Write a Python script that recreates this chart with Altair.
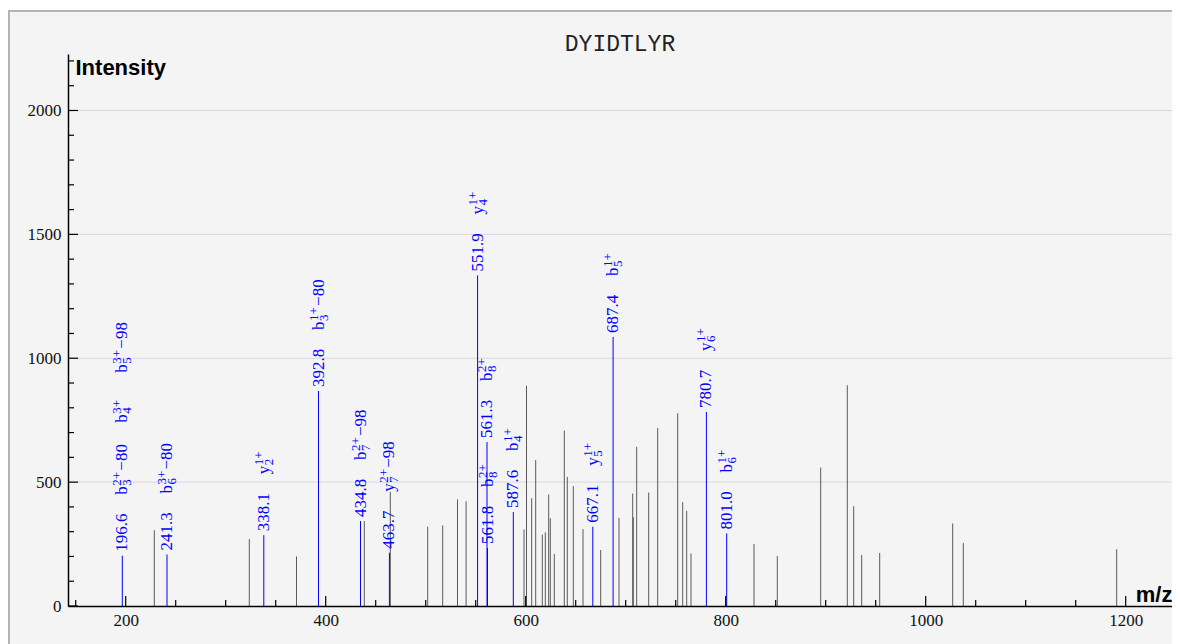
import altair as alt
import pandas as pd

# ---------------- data ----------------
gray_mz = [228.6, 323.6, 370.8, 438.6, 464.6, 502.0, 517.0, 531.8, 540.4, 598.3,
           600.8, 606.0, 610.0, 616.6, 619.6, 623.0, 624.6, 628.6, 638.6, 641.6,
           647.6, 657.3, 675.0, 693.3, 707.0, 707.6, 711.0, 723.0, 732.0, 752.0,
           757.0, 761.0, 765.3, 828.3, 851.6, 895.0, 921.6, 928.0, 936.0, 954.0,
           1027.0, 1037.6, 1191.0]
gray_int = [306, 270, 200, 343, 461, 320, 325, 430, 423, 309,
            889, 435, 589, 288, 297, 450, 354, 210, 708, 521,
            484, 310, 226, 356, 454, 358, 642, 458, 719, 778,
            419, 384, 212, 250, 202, 559, 891, 403, 206, 214,
            333, 254, 229]

blue_mz = [196.6, 241.3, 338.1, 392.8, 434.8, 463.7, 551.9, 561.3, 561.8,
           587.6, 667.1, 687.4, 780.7, 801.0]
blue_int = [203, 208, 286, 868, 343, 215, 1334, 662, 234, 379, 320, 1086, 783, 293]

ann_mz = [196.6, 196.6, 196.6, 241.3, 338.1, 392.8, 434.8, 463.7, 551.9,
          561.3, 561.8, 587.6, 667.1, 687.4, 780.7, 801.0]
ann_level = [1, 2, 3, 1, 1, 1, 1, 1, 1, 1, 1, 1, 1, 1, 1, 1]
ann_ion = ['b', 'b', 'b', 'b', 'y', 'b', 'b', 'y', 'y', 'b', 'b', 'b', 'y', 'b', 'y', 'b']
ann_idx = ['3', '4', '5', '6', '2', '3', '7', '7', '4', '8', '8', '4', '5', '5', '6', '6']
ann_charge = ['2+', '3+', '3+', '3+', '1+', '1+', '2+', '2+', '1+', '2+', '2+',
              '1+', '1+', '1+', '1+', '1+']
ann_loss = ['\u221280', '', '\u221298', '\u221280', '', '\u221280', '\u221298', '\u221298',
            '', '', '', '', '', '', '', '']

y_major = [0, 500, 1000, 1500, 2000]
y_minor = [100, 200, 300, 400, 600, 700, 800, 900, 1100, 1200, 1300, 1400,
           1600, 1700, 1800, 1900, 2100, 2200]
y_grid = [500, 1000, 1500, 2000]
x_major = [200, 400, 600, 800, 1000, 1200]
x_minor = [150, 250, 300, 350, 450, 500, 550, 650, 700, 750, 850, 900, 950,
           1050, 1100, 1150]

# ---------------- tables ----------------
gdf = pd.DataFrame({'mz': gray_mz, 'intensity': gray_int})
bdf = pd.DataFrame({'mz': blue_mz, 'intensity': blue_int})
adf = pd.DataFrame({'mz': ann_mz, 'level': ann_level, 'ion': ann_ion, 'idx': ann_idx,
                    'charge': ann_charge, 'loss': ann_loss}).merge(bdf, on='mz', how='left')

W, H = 1104, 552
xs = alt.Scale(domain=[142.3, 1246.3], nice=False, zero=False)
ys = alt.Scale(domain=[0, 2228], nice=False, zero=False)

SERIF = 'Liberation Serif'
SANS = 'Liberation Sans'
BLUE = '#0000ff'

x_axis = alt.Axis(values=x_major, format='d', grid=False, ticks=False, tickSize=0,
                  labelPadding=6, labelFont=SERIF, labelFontSize=17, labelColor='#111',
                  domainColor='black', domainWidth=1.5,
                  title='m/z', titleFont=SANS, titleFontSize=22, titleFontWeight='bold',
                  titleColor='black', titleAnchor='end', titleAlign='right',
                  titleBaseline='alphabetic', titleX=W, titleY=-5, zindex=1)
y_axis = alt.Axis(values=y_major, format='d', grid=False, ticks=False, tickSize=0,
                  labelPadding=7, labelFont=SERIF, labelFontSize=17, labelColor='#111',
                  domainColor='black', domainWidth=1.5,
                  title='Intensity', titleFont=SANS, titleFontSize=22, titleFontWeight='bold',
                  titleColor='black', titleAngle=0, titleAlign='left',
                  titleBaseline='alphabetic', titleX=7, titleY=20, zindex=1)


def X(f):
    return alt.X(f'{f}:Q', scale=xs, axis=x_axis)


def Y(f):
    return alt.Y(f'{f}:Q', scale=ys, axis=y_axis)


# frame / background
bg = alt.Chart(pd.DataFrame({'k': [0]})).mark_rect(
    fill='#f4f4f4', stroke='#b4b4b4', strokeWidth=2
).encode(x=alt.value(-59), x2=alt.value(W + 40), y=alt.value(-43), y2=alt.value(H + 80))

grid = alt.Chart(pd.DataFrame({'v': y_grid})).mark_rule(color='#d9d9d9', strokeWidth=1).encode(
    y=Y('v'), x=alt.value(0), x2=alt.value(W))

gray = alt.Chart(gdf).mark_rule(color='#5a5a5a', strokeWidth=1).encode(
    x=X('mz'), y=Y('intensity'), y2=alt.datum(0))
blue = alt.Chart(bdf).mark_rule(color=BLUE, strokeWidth=1).encode(
    x=X('mz'), y=Y('intensity'), y2=alt.datum(0))

ytm = alt.Chart(pd.DataFrame({'v': y_major})).mark_rule(color='black', strokeWidth=1.2).encode(
    y=Y('v'), x=alt.value(0), x2=alt.value(10))
ytn = alt.Chart(pd.DataFrame({'v': y_minor})).mark_rule(color='black', strokeWidth=1.2).encode(
    y=Y('v'), x=alt.value(0), x2=alt.value(6))
xtm = alt.Chart(pd.DataFrame({'v': x_major})).mark_rule(color='black', strokeWidth=1.2).encode(
    x=X('v'), y=alt.value(H), y2=alt.value(H - 10))
xtn = alt.Chart(pd.DataFrame({'v': x_minor})).mark_rule(color='black', strokeWidth=1.2).encode(
    x=X('v'), y=alt.value(H), y2=alt.value(H - 6))

nums = alt.Chart(bdf).mark_text(angle=270, align='left', baseline='middle', dx=4,
                                font=SERIF, fontSize=17, color=BLUE).encode(
    x=X('mz'), y=Y('intensity'), text=alt.Text('mz:Q', format='.1f'))

layers = [bg, grid, gray, blue, ytm, ytn, xtm, xtn, nums]

LEVEL_DX = {1: 61, 2: 133, 3: 183}
for lvl, L in LEVEL_DX.items():
    base = alt.Chart(adf).transform_filter(alt.datum.level == lvl)
    parts = [
        ('ion', L, 0, 17),
        ('charge', L + 9, -5, 13),
        ('idx', L + 9, 5, 13),
        ('loss', L + 24, 0, 17),
    ]
    for field, dx, dy, fs in parts:
        layers.append(
            base.mark_text(angle=270, align='left', baseline='middle', dx=dx, dy=dy,
                           font=SERIF, fontSize=fs, color=BLUE).encode(
                x=X('mz'), y=Y('intensity'), text=alt.Text(f'{field}:N'))
        )

chart = alt.layer(*layers).properties(
    width=W, height=H,
    autosize=alt.AutoSizeParams(type='none'),
    padding={'left': 60, 'top': 46, 'right': 0, 'bottom': 38},
    title=alt.TitleParams('DYIDTLYR', font='Liberation Mono', fontSize=23,
                          fontWeight='normal', color='#222222', anchor='middle',
                          frame='group', offset=0, dy=46),
).configure_view(stroke='transparent')

chart.save('out.html', embed_options={'renderer': 'svg', 'actions': False})
